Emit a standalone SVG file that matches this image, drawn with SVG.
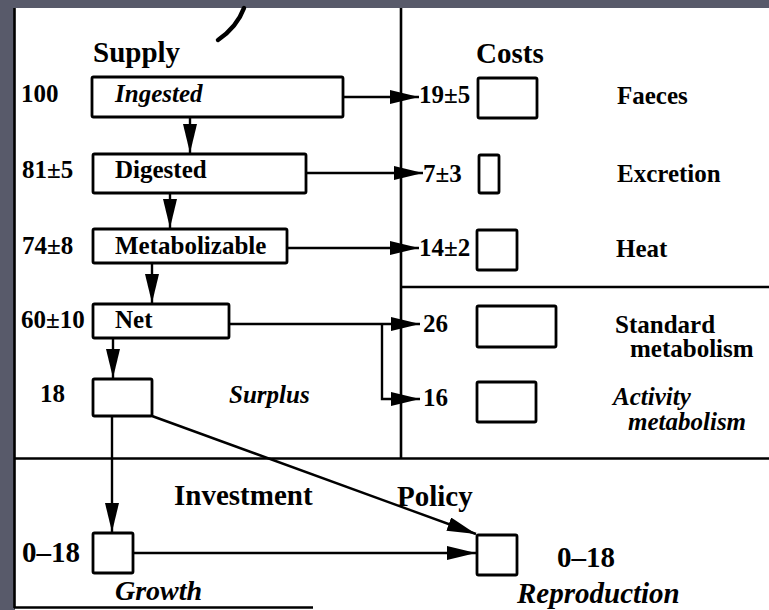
<svg xmlns="http://www.w3.org/2000/svg" width="769" height="610" viewBox="0 0 769 610">
  <style>
    .t { font-family: "Liberation Serif", "Times New Roman", serif; font-weight: bold; font-size: 25px; fill: #000; }
    .i { font-style: italic; }
    .big { font-size: 29px; }
    .box { fill: #fff; stroke: #000; stroke-width: 2.8; }
    .ln { fill: none; stroke: #000; stroke-width: 2.6; }
    .div { fill: none; stroke: #000; stroke-width: 2.6; }
    .arr { fill: none; stroke: #000; stroke-width: 2.4; marker-end: url(#ah); }
  </style>
  <defs>
    <marker id="ah" markerUnits="userSpaceOnUse" markerWidth="30" markerHeight="14" refX="29" refY="7" orient="auto">
      <path d="M0,0 L29,7 L0,14 Z" fill="#000"/>
    </marker>
  </defs>

  <!-- background -->
  <rect x="0" y="0" width="769" height="610" fill="#585a6a"/>
  <rect x="15" y="8" width="754" height="602" fill="#fff"/>
  <path d="M244,8 Q237,27 218,40" fill="none" stroke="#000" stroke-width="4.5" stroke-linecap="round"/>

  <!-- frame and dividers -->
  <g id="frame">
    <line class="div" x1="14.5" y1="8" x2="14.5" y2="608"/>
    <line class="div" x1="401" y1="8" x2="401" y2="458.5"/>
    <line class="div" x1="401" y1="287" x2="769" y2="287"/>
    <line class="div" x1="14" y1="458.5" x2="769" y2="458.5"/>
    <line class="div" x1="14" y1="607.5" x2="313" y2="607.5"/>
  </g>

  <!-- headings -->
  <g id="headings">
    <text class="t big" x="93" y="62">Supply</text>
    <text class="t big" x="476" y="63">Costs</text>
    <text class="t big" x="229" y="403" style="font-size:25px" font-style="italic">Surplus</text>
    <text class="t big" x="174" y="505">Investment</text>
    <text class="t big" x="397" y="506">Policy</text>
  </g>

  <!-- connectors -->
  <g id="connectors">
    <line class="arr" x1="343" y1="97" x2="419" y2="97"/>
    <line class="arr" x1="306" y1="173" x2="423" y2="173"/>
    <line class="arr" x1="287" y1="248" x2="419" y2="248"/>
    <line class="arr" x1="229" y1="324" x2="420" y2="324"/>
    <path class="arr" d="M382,324 V399 H420"/>
    <line class="arr" x1="190" y1="117" x2="190" y2="153"/>
    <line class="arr" x1="170" y1="193" x2="170" y2="228"/>
    <line class="arr" x1="152" y1="263" x2="152" y2="303"/>
    <line class="arr" x1="113" y1="338" x2="113" y2="378"/>
    <line class="arr" x1="112" y1="416" x2="112" y2="532"/>
    <line class="arr" x1="152" y1="416" x2="476" y2="534"/>
    <line class="arr" x1="133" y1="553" x2="476" y2="553"/>
  </g>

  <!-- supply nodes -->
  <g id="ingested">
    <rect class="box" x="92" y="77" width="251" height="40" rx="1.5"/>
    <text class="t" x="21" y="102">100</text>
    <text class="t i" x="115" y="102">Ingested</text>
  </g>
  <g id="digested">
    <rect class="box" x="93" y="154" width="213" height="39" rx="1.5"/>
    <text class="t" x="22" y="178">81±5</text>
    <text class="t" x="115" y="178">Digested</text>
  </g>
  <g id="metabolizable">
    <rect class="box" x="93" y="229" width="194" height="34" rx="1.5"/>
    <text class="t" x="22" y="254">74±8</text>
    <text class="t" x="115" y="254">Metabolizable</text>
  </g>
  <g id="net">
    <rect class="box" x="93" y="304" width="136" height="34" rx="1.5"/>
    <text class="t" x="21" y="328">60±10</text>
    <text class="t" x="115" y="328">Net</text>
  </g>
  <g id="surplus">
    <rect class="box" x="93" y="379" width="59" height="37" rx="1.5"/>
    <text class="t" x="40" y="402">18</text>
  </g>

  <!-- cost nodes -->
  <g id="faeces">
    <rect class="box" x="478" y="78" width="59" height="40" rx="1.5"/>
    <text class="t" x="419" y="103">19±5</text>
    <text class="t" x="617" y="104">Faeces</text>
  </g>
  <g id="excretion">
    <rect class="box" x="479" y="155" width="20" height="38" rx="1.5"/>
    <text class="t" x="423" y="182">7±3</text>
    <text class="t" x="617" y="182">Excretion</text>
  </g>
  <g id="heat">
    <rect class="box" x="477" y="230" width="40" height="40" rx="1.5"/>
    <text class="t" x="419" y="256">14±2</text>
    <text class="t" x="616" y="257">Heat</text>
  </g>
  <g id="standard">
    <rect class="box" x="477" y="306" width="79" height="41" rx="1.5"/>
    <text class="t" x="423" y="332">26</text>
    <text class="t" x="615" y="333">Standard</text>
    <text class="t" x="630" y="357">metabolism</text>
  </g>
  <g id="activity">
    <rect class="box" x="477" y="382" width="59" height="40" rx="1.5"/>
    <text class="t" x="423" y="406">16</text>
    <text class="t i" x="613" y="405">Activity</text>
    <text class="t i" x="628" y="430">metabolism</text>
  </g>

  <!-- investment nodes -->
  <g id="growth">
    <rect class="box" x="93" y="533" width="40" height="40" rx="1.5"/>
    <text class="t big" x="22" y="562">0–18</text>
    <text class="t i" x="115" y="600" style="font-size:28px">Growth</text>
  </g>
  <g id="reproduction">
    <rect class="box" x="477" y="535" width="40" height="40" rx="1.5"/>
    <text class="t big" x="557" y="567">0–18</text>
    <text class="t i big" x="517" y="603">Reproduction</text>
  </g>
</svg>
